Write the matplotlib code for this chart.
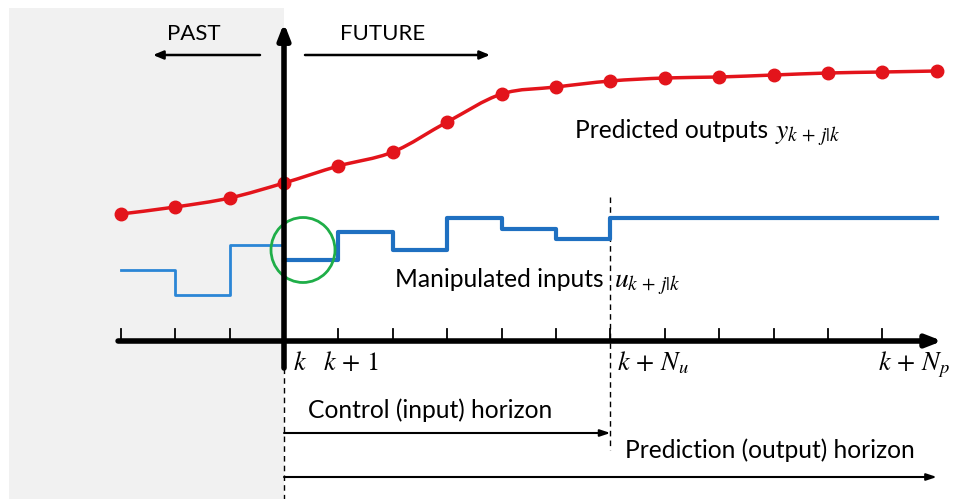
import numpy as np
import matplotlib
matplotlib.use("Agg")
import matplotlib.pyplot as plt
from matplotlib.path import Path
from matplotlib.patches import PathPatch, Ellipse, Rectangle

plt.rcParams['mathtext.fontset'] = 'stix'

# ---- data ----
steps = np.arange(-3, 13)                         # time index relative to k
outputs = [127, 134, 143, 158, 175, 189, 219, 247,
           254, 260, 263, 264, 266, 268, 269, 270]  # predicted outputs y
input_edges = [-3, -2, -1, 0, 1, 2, 3, 4, 5, 6, 12]
inputs = [71, 46, 96, 81, 109, 91, 123, 112, 102, 123]  # manipulated inputs u
tick_steps = np.arange(-3, 12)
Nu = 6
Np = 11

RED = '#e3141b'
BLUE = '#1f70c1'
BLUE_PAST = '#2b86d6'
GREEN = '#1fae48'
FONT = 'Lato'
FS = 17.7
MFS = 19

S = 54.4  # pixels per step, used only for placing annotations


def px(x):
    return (x - 284) / S


fig = plt.figure(figsize=(9.57, 4.99), dpi=100)
ax = fig.add_axes([0, 0, 1, 1])
ax.set_xlim(px(0), px(957))
ax.set_ylim(-158, 341)
ax.axis('off')

# gray past region
ax.add_patch(Rectangle((px(9), -170), px(284) - px(9), 503,
                       facecolor='#f1f1f1', edgecolor='none', zorder=0))

# smooth output curve (Catmull-Rom -> cubic Bezier)
P = np.column_stack([steps, outputs]).astype(float)
verts = [tuple(P[0])]
codes = [Path.MOVETO]
for i in range(len(P) - 1):
    p0 = P[i - 1] if i > 0 else P[i]
    p1 = P[i]
    p2 = P[i + 1]
    p3 = P[i + 2] if i + 2 < len(P) else P[i + 1]
    c1 = p1 + (p2 - p0) / 6
    c2 = p2 - (p3 - p1) / 6
    verts += [tuple(c1), tuple(c2), tuple(p2)]
    codes += [Path.CURVE4] * 3
ax.add_patch(PathPatch(Path(verts, codes), facecolor='none', edgecolor=RED,
                       lw=2.5, zorder=4))
ax.plot(steps, outputs, 'o', color=RED, ms=9, zorder=5)

# manipulated inputs (step)
past_n = 3
ax.step(input_edges[:past_n + 1], inputs[:past_n] + [inputs[past_n - 1]],
        where='post', color=BLUE_PAST, lw=2, zorder=3)
ax.step(input_edges[past_n:], inputs[past_n:] + [inputs[-1]],
        where='post', color=BLUE, lw=3, zorder=3)

# green circle
ax.add_patch(Ellipse((px(303), 91), 64 / S, 65, facecolor='none',
                     edgecolor=GREEN, lw=2, zorder=6))

# time axis
ax.annotate('', xy=(12.1, 0), xytext=(tick_steps[0] - 0.05, 0),
            arrowprops=dict(arrowstyle='-|>,head_length=0.9,head_width=0.35',
                            color='black', lw=4, shrinkA=0, shrinkB=0), zorder=7)
for t in tick_steps:
    ax.plot([t, t], [0, 12], color='black', lw=1.3, zorder=7)

# vertical axis
ax.annotate('', xy=(0, 318), xytext=(0, -27),
            arrowprops=dict(arrowstyle='-|>,head_length=0.9,head_width=0.35',
                            color='black', lw=4, shrinkA=0, shrinkB=0), zorder=8)

# dashed lines
ax.plot([0, 0], [-27, -160], color='black', lw=1, ls=(0, (4, 3)), zorder=2)
ax.plot([Nu, Nu], [144, -109], color='black', lw=1, ls=(0, (4, 3)), zorder=2)

# PAST / FUTURE arrows
arrow_kw = dict(arrowstyle='-|>,head_length=0.6,head_width=0.25', color='black',
                lw=1.8, shrinkA=0, shrinkB=0)
ax.annotate('', xy=(px(153), 286), xytext=(px(260), 286), arrowprops=arrow_kw)
ax.annotate('', xy=(px(490), 286), xytext=(px(305), 286), arrowprops=arrow_kw)
ax.text(px(194), 301, 'PAST', ha='center', va='baseline', fontsize=16, family=FONT)
ax.text(px(383), 301, 'FUTURE', ha='center', va='baseline', fontsize=16, family=FONT)

# horizon arrows
hz_kw = dict(arrowstyle='-|>,head_length=0.6,head_width=0.2', color='black',
             lw=1.5, shrinkA=0, shrinkB=0)
ax.annotate('', xy=(Nu, -92), xytext=(0, -92), arrowprops=hz_kw)
ax.annotate('', xy=(12.0, -136), xytext=(0, -136), arrowprops=hz_kw)
ax.text(px(308), -77, 'Control (input) horizon', ha='left', va='baseline',
        fontsize=FS, family=FONT)
ax.text(px(625), -117, 'Prediction (output) horizon', ha='left', va='baseline',
        fontsize=FS, family=FONT)

# curve labels
ax.text(px(575), 203, 'Predicted outputs', ha='left', va='baseline',
        fontsize=FS, family=FONT)
ax.text(px(775), 203, r'$y_{k\,+\,j|k}$', ha='left', va='baseline', fontsize=20)
ax.text(px(395), 54, 'Manipulated inputs', ha='left', va='baseline',
        fontsize=FS, family=FONT)
ax.text(px(614), 54, r'$u_{k\,+\,j|k}$', ha='left', va='baseline', fontsize=20)

# tick labels
ax.text(px(293), -29, r'$k$', ha='left', va='baseline', fontsize=MFS)
ax.text(px(323), -29, r'$k\,+\,1$', ha='left', va='baseline', fontsize=MFS)
ax.text(px(617), -29, r'$k\,+\,N_u$', ha='left', va='baseline', fontsize=MFS)
ax.text(px(878), -29, r'$k\,+\,N_p$', ha='left', va='baseline', fontsize=MFS)

fig.savefig('out.png', dpi=100)
